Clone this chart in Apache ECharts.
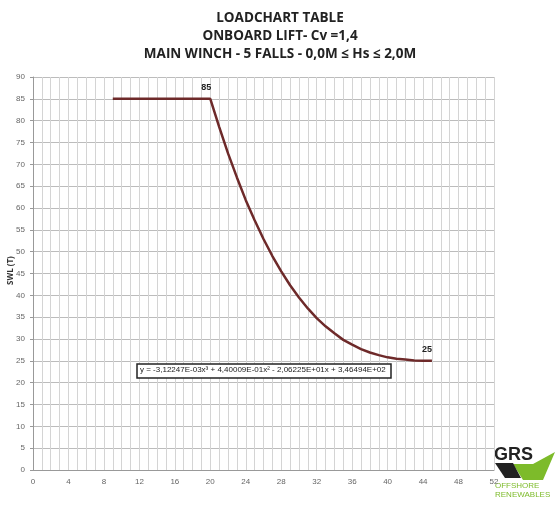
<!DOCTYPE html>
<html>
<head>
<meta charset="utf-8">
<script src="https://cdn.jsdelivr.net/npm/echarts@6/dist/echarts.min.js"></script>
<style>html,body{margin:0;padding:0;background:#fff}#chart{width:560px;height:506px}</style>
</head>
<body>
<div id="chart"></div>
<script>
// radius (m) and SWL (t)
var radius = [9, 20, 21, 22, 23, 24, 25, 26, 27, 28, 29, 30, 31, 32, 33, 34, 35, 36, 37, 38, 39, 40, 41, 42, 43, 44, 45];
var swl = [85, 85, 78.6, 72.5, 67, 61.8, 57.2, 52.9, 49, 45.5, 42.3, 39.5, 37, 34.8, 32.9, 31.3, 29.8, 28.7, 27.7, 26.9, 26.3, 25.8, 25.5, 25.3, 25.1, 25, 25];
var titleLines = ['LOADCHART TABLE', 'ONBOARD LIFT- Cv =1,4', 'MAIN WINCH - 5 FALLS - 0,0M \u2264 Hs \u2264 2,0M'];
var equation = 'y = -3,12247E-03x\u00b3 + 4,40009E-01x\u00b2 - 2,06225E+01x + 3,46494E+02';

var chart = echarts.init(document.getElementById('chart'));
var pts = radius.map(function (r, i) { return [r, swl[i]]; });

chart.setOption({
    animation: false,
    title: {
        text: titleLines.join('\n'),
        left: 'center',
        top: 4,
        textStyle: { fontFamily: 'Open Sans', fontSize: 13.5, fontWeight: 'bold', color: '#222', lineHeight: 18 }
    },
    grid: { left: 33, right: 66, top: 77, bottom: 36, containLabel: false, outerBoundsMode: 'none' },
    xAxis: {
        type: 'value', min: 0, max: 52, interval: 1,
        axisLine: { lineStyle: { color: '#999' } },
        axisTick: { show: false },
        axisLabel: {
            fontSize: 8, color: '#666',
            formatter: function (v) { return v % 4 === 0 ? String(v) : ''; }
        },
        splitLine: { lineStyle: { color: '#d4d4d4', width: 1 } }
    },
    yAxis: {
        type: 'value', min: 0, max: 90, interval: 5,
        axisLine: { show: true, lineStyle: { color: '#999' } },
        axisTick: { show: true, length: 3 },
        axisLabel: { fontSize: 8, color: '#666' },
        splitLine: { lineStyle: { color: '#bcbcbc' } }
    },
    series: [{
        type: 'line', data: pts, smooth: false, showSymbol: false,
        lineStyle: { color: '#6e2a2a', width: 2.5 },
        markPoint: {
            symbol: 'circle', symbolSize: 0,
            label: { show: true, fontSize: 9, fontWeight: 'bold', color: '#222', formatter: function (p) { return p.name; } },
            data: [
                { name: '85', coord: [20, 85], label: { position: 'top', offset: [-4, -2] } },
                { name: '25', coord: [44, 25], label: { position: 'top', offset: [4, -2] } }
            ]
        }
    }],
    graphic: [
        {
            type: 'text', x: 7, y: 285, rotation: Math.PI / 2, z: 100,
            style: { text: 'SWL (T)', font: 'bold 8px "Open Sans"', fill: '#333' }
        },
        {
            type: 'rect', z: 100, shape: { x: 137, y: 364, width: 254, height: 14 },
            style: { fill: '#fff', stroke: '#222', lineWidth: 1.5 }
        },
        {
            type: 'text', z: 101, x: 140, y: 366,
            style: { text: equation, font: '8px "Liberation Sans"', fill: '#222' }
        },
        {
            type: 'group', left: 491, top: 446, z: 100,
            children: [
                { type: 'rect', shape: { x: 0, y: 0, width: 68, height: 56 }, style: { fill: '#fff' } },
                { type: 'polygon', shape: { points: [[22, 18], [42, 18], [64, 6], [52, 34], [32, 34]] }, style: { fill: '#7dbb2a' } },
                { type: 'polygon', shape: { points: [[4, 17], [22, 17], [30, 32], [14, 32]] }, style: { fill: '#222' } },
                { type: 'text', left: 3, top: 0, style: { text: 'GRS', font: 'bold 18px "Liberation Sans Narrow", "Liberation Sans"', fill: '#222' } },
                { type: 'text', left: 4, top: 35, style: { text: 'OFFSHORE\nRENEWABLES', font: '8px "Liberation Sans"', fill: '#7dbb2a', lineHeight: 9 } }
            ]
        }
    ]
});
</script>
</body>
</html>
